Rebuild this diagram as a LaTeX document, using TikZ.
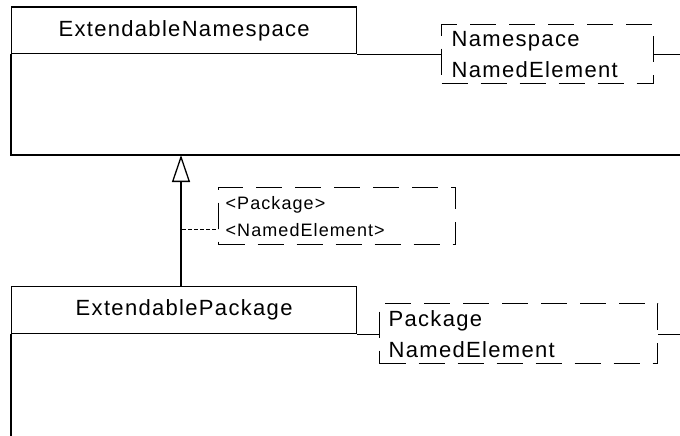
\documentclass[tikz,border=0pt]{standalone}
\usepackage{fontspec}
\usetikzlibrary{arrows.meta}
\newfontfamily\umlfont[LetterSpace=6]{Liberation Sans}
\newfontfamily\umlsmallfont[LetterSpace=6]{Liberation Sans}
\begin{document}
\begin{tikzpicture}[x=1pt,y=-1pt,
  uml/.style={draw=black, line width=1.3pt},
  tabbox/.style={uml, rectangle, minimum width=345pt, inner sep=0pt, anchor=north west,
    font=\umlfont\fontsize{22}{26}\selectfont},
  notebox/.style={draw=black, line width=1.3pt, dash pattern=on 26pt off 13pt, rectangle,
    anchor=north west, align=left, inner ysep=0pt,
    font=\umlfont\fontsize{22}{31}\selectfont},
  smallnote/.style={notebox, font=\umlsmallfont\fontsize{18}{27}\selectfont},
  dotline/.style={draw=black, line width=1pt, dash pattern=on 4pt off 2pt},
  gen/.style={uml, -{Triangle[open, length=27pt, width=18pt, fill=white]}}
]
\useasboundingbox (0,0) rectangle (680,436);

% top class
\node[tabbox, minimum height=46.5pt] (tab1) at (11,6.5) {ExtendableNamespace};
\coordinate (gtip) at (181,155);
\draw[uml] (tab1.south west) -- (tab1.south west |- gtip) -- ++(700,0);
\node[notebox, text width=192pt, inner xsep=10pt, minimum height=59pt] (note1) at (441,24)
  {Namespace\\NamedElement};
\draw[uml] (tab1.south east) -- (tab1.south east -| note1.west);
\draw[uml] (tab1.south east -| note1.east) -- ++(60,0);

% bottom class
\node[tabbox, minimum height=47pt] (tab2) at (11,286) {ExtendablePackage};
\draw[uml] (tab2.south west) -- ++(0,160);
\node[notebox, text width=260pt, inner xsep=9pt, minimum height=60pt] (note3) at (379,303)
  {Package\\NamedElement};
\draw[uml] (tab2.south east) -- (tab2.south east -| note3.west);
\draw[uml] (tab2.south east -| note3.east) -- ++(60,0);

% generalization
\draw[gen] (tab2.north -| gtip) -- (gtip);

% binding note
\node[smallnote, text width=223pt, inner xsep=7pt, minimum height=57pt] (note2) at (218,187)
  {<Package>\\<NamedElement>};
\coordinate (dotstart) at (182,229);
\draw[dotline] (dotstart) -- (dotstart -| note2.west);
\end{tikzpicture}
\end{document}
